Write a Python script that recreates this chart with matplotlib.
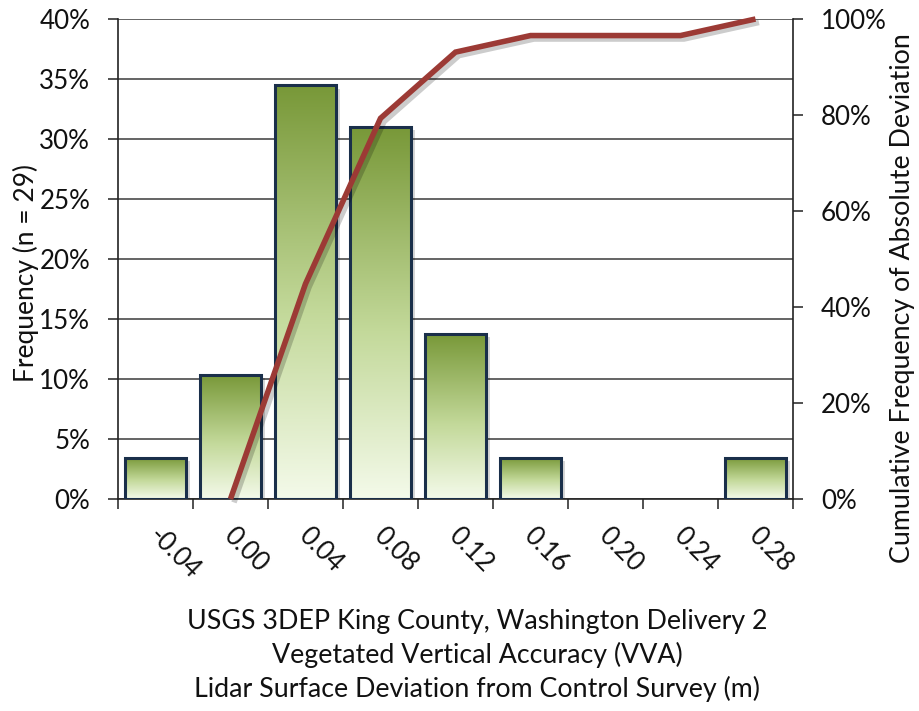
import numpy as np
import matplotlib
matplotlib.use('Agg')
import matplotlib.pyplot as plt
from matplotlib.colors import LinearSegmentedColormap
from matplotlib.patches import Rectangle
import matplotlib.patheffects as pe
import matplotlib.transforms as mtransforms

# ---- data ----
categories = ['-0.04', '0.00', '0.04', '0.08', '0.12', '0.16', '0.20', '0.24', '0.28']
frequency = [3.45, 10.34, 34.48, 31.03, 13.79, 3.45, 0.0, 0.0, 3.45]          # % of n=29
cum_categories = ['0.00', '0.04', '0.08', '0.12', '0.16', '0.20', '0.24', '0.28']
cumulative = [0.0, 44.83, 79.31, 93.10, 96.55, 96.55, 96.55, 100.0]          # %
left_ticks = [0, 5, 10, 15, 20, 25, 30, 35, 40]
right_ticks = [0, 20, 40, 60, 80, 100]
xlabel_lines = ['USGS 3DEP King County, Washington Delivery 2',
                'Vegetated Vertical Accuracy (VVA)',
                'Lidar Surface Deviation from Control Survey (m)']
ylabel_left = 'Frequency (n = 29)'
ylabel_right = 'Cumulative Frequency of Absolute Deviation'

plt.rcParams['font.family'] = ['Lato', 'DejaVu Sans']
TXT = '#111111'
W, H = 920, 711

fig = plt.figure(figsize=(W / 100, H / 100), dpi=100)
ax = fig.add_axes([118 / W, 1 - 499 / H, 675 / W, 480 / H])
x = np.arange(len(categories))
ax.set_xlim(-0.5, len(categories) - 0.5)
ax.set_ylim(0, 40)

cmap = LinearSegmentedColormap.from_list(
    'g', [(0.0, '#f4faea'), (0.45, '#c3d99a'), (1.0, '#789838')])
grad = np.linspace(0, 1, 256).reshape(-1, 1)
bw = 0.82
shadow_off = mtransforms.ScaledTranslation(2.5 / 72, -2.5 / 72, fig.dpi_scale_trans)
for xi, v in zip(x, frequency):
    if v <= 0:
        continue
    sh = Rectangle((xi - bw / 2, 0), bw, v, facecolor='#000000', alpha=0.16,
                   edgecolor='none', transform=ax.transData + shadow_off, zorder=1.5)
    ax.add_patch(sh)
    rect = Rectangle((xi - bw / 2, 0), bw, v, facecolor='none',
                     edgecolor='#1a2f4a', linewidth=2.2, zorder=3)
    ax.add_patch(rect)
    im = ax.imshow(grad, cmap=cmap, origin='lower', aspect='auto',
                   extent=[xi - bw / 2, xi + bw / 2, 0, v], zorder=2,
                   interpolation='bilinear')
    im.set_clip_path(rect)
ax.set_xlim(-0.5, len(categories) - 0.5)
ax.set_ylim(0, 40)

ax.set_yticks(left_ticks)
ax.set_yticklabels([f'{t}%' for t in left_ticks])
ax.yaxis.grid(True, color='#3a3a3a', linewidth=1.1)
ax.set_axisbelow(True)
ax.set_xticks(np.arange(-0.5, len(categories), 1))
ax.set_xticklabels([])
ax.tick_params(axis='x', direction='out', length=7, width=1.1, color='#222222')
ax.tick_params(axis='y', direction='out', length=7, width=1.1, color='#222222',
               pad=13, labelsize=18.7, labelcolor=TXT)
for s in ['top', 'right']:
    ax.spines[s].set_visible(False)
for s in ['left', 'bottom']:
    ax.spines[s].set_color('#222222')
    ax.spines[s].set_linewidth(1.2)

# rotated category labels
lab_tr = mtransforms.blended_transform_factory(ax.transData, ax.transAxes) + \
    mtransforms.ScaledTranslation(-3 / 100, -33 / 100, fig.dpi_scale_trans)
for xi, c in zip(x, categories):
    ax.text(xi, 0, c, transform=lab_tr, rotation=-45, rotation_mode='anchor',
            ha='left', va='center', fontsize=18.7, color=TXT)

# cumulative line on secondary axis
ax2 = ax.twinx()
ax2.set_ylim(0, 100)
ax2.set_yticks(right_ticks)
ax2.set_yticklabels([f'{t}%' for t in right_ticks])
ax2.tick_params(axis='y', direction='out', length=7, width=1.1, color='#222222',
                pad=13, labelsize=18.7, labelcolor=TXT)
for s in ['top', 'left', 'bottom']:
    ax2.spines[s].set_visible(False)
ax2.spines['right'].set_color('#222222')
ax2.spines['right'].set_linewidth(1.2)
cx = [categories.index(c) for c in cum_categories]
ax2.plot(cx, cumulative, color='#9c3a35', linewidth=4.0, solid_joinstyle='miter',
         solid_capstyle='butt', zorder=5, clip_on=False,
         path_effects=[pe.SimpleLineShadow(offset=(2.5, -2.5), shadow_color='k', alpha=0.2),
                       pe.Normal()])

# axis titles
ys = [621, 655, 689]
for line, yy in zip(xlabel_lines, ys):
    fig.text(477 / W, 1 - yy / H, line, ha='center', va='center', fontsize=19.3, color=TXT)
fig.text(26 / W, 1 - 273 / H, ylabel_left, rotation=90, ha='center', va='center',
         fontsize=19, color=TXT)
fig.text(903 / W, 1 - 298 / H, ylabel_right, rotation=90, ha='center', va='center',
         fontsize=19.3, color=TXT)

fig.savefig('out.png', dpi=100, facecolor='white')
